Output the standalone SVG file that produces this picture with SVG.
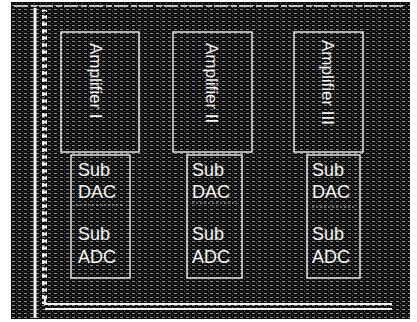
<svg xmlns="http://www.w3.org/2000/svg" width="417" height="322" viewBox="0 0 417 322">
  <defs>
    <!-- halftone screen used for the dark panel -->
    <pattern id="screen" width="6" height="4" patternUnits="userSpaceOnUse">
      <rect width="6" height="4" fill="#0e0e0e"/>
      <rect x="0" y="1" width="3" height="1" fill="#e8e8e8" opacity="0.6"/>
      <rect x="4" y="3" width="1" height="1" fill="#e8e8e8" opacity="0.4"/>
    </pattern>
    <pattern id="dots" width="5" height="7" patternUnits="userSpaceOnUse">
      <rect x="0" y="1" width="5" height="4" rx="1.8" fill="#f4f4f4"/>
    </pattern>
  </defs>
  <style>
    .box { fill: url(#screen); stroke: #f2f2f2; stroke-width: 1.4; }
    .amp { font-family: "Liberation Sans", Arial, sans-serif; font-size: 17px; fill: #f6f6f6; }
    .sub { font-family: "Liberation Sans", Arial, sans-serif; font-size: 18px; fill: #f6f6f6; }
    .bus { fill: none; stroke: #f2f2f2; stroke-width: 2; }
    .div { stroke: #e0e0e0; stroke-width: 1; stroke-dasharray: 2 2; opacity: 0.7; }
  </style>

  <rect width="417" height="322" fill="#ffffff"/>
  <!-- panel -->
  <rect x="11" y="2" width="399" height="317" fill="url(#screen)"/>
  <line x1="14" y1="6" x2="405" y2="6" stroke="#f0f0f0" stroke-width="1.5" stroke-dasharray="14 3 6 2"/>

  <g id="connectors">
    <!-- left rail -->
    <line x1="35" y1="8" x2="35" y2="318" stroke="#f4f4f4" stroke-width="3"/>
    <rect x="42" y="10" width="5" height="294" fill="url(#dots)"/>
    <!-- bottom bus -->
    <path class="bus" d="M45,297 V304 H392"/>
    <path class="bus" d="M45,309 H392"/>
  </g>

  <g id="amp1">
    <rect class="box" x="61" y="32" width="78" height="120"/>
    <text class="amp" transform="translate(90,43) rotate(90)">Amplifier I</text>
  </g>
  <g id="amp2">
    <rect class="box" x="173" y="32" width="79" height="120"/>
    <text class="amp" transform="translate(206,43) rotate(90)">Amplifier II</text>
  </g>
  <g id="amp3">
    <rect class="box" x="294" y="32" width="69" height="120"/>
    <text class="amp" transform="translate(322,40) rotate(90)">Amplifier III</text>
  </g>

  <g id="sub1">
    <rect class="box" x="71" y="155" width="59" height="123"/>
    <text class="sub" x="78" y="176">Sub</text>
    <text class="sub" x="78" y="198">DAC</text>
    <line class="div" x1="76" y1="205" x2="124" y2="205"/>
    <text class="sub" x="78" y="240">Sub</text>
    <text class="sub" x="78" y="263">ADC</text>
  </g>
  <g id="sub2">
    <rect class="box" x="187" y="155" width="55" height="123"/>
    <text class="sub" x="192" y="176">Sub</text>
    <text class="sub" x="192" y="198">DAC</text>
    <line class="div" x1="192" y1="203" x2="237" y2="203"/>
    <text class="sub" x="192" y="240">Sub</text>
    <text class="sub" x="192" y="263">ADC</text>
  </g>
  <g id="sub3">
    <rect class="box" x="307" y="155" width="53" height="123"/>
    <text class="sub" x="312" y="176">Sub</text>
    <text class="sub" x="312" y="198">DAC</text>
    <line class="div" x1="312" y1="207" x2="354" y2="207"/>
    <text class="sub" x="312" y="240">Sub</text>
    <text class="sub" x="312" y="263">ADC</text>
  </g>
</svg>
